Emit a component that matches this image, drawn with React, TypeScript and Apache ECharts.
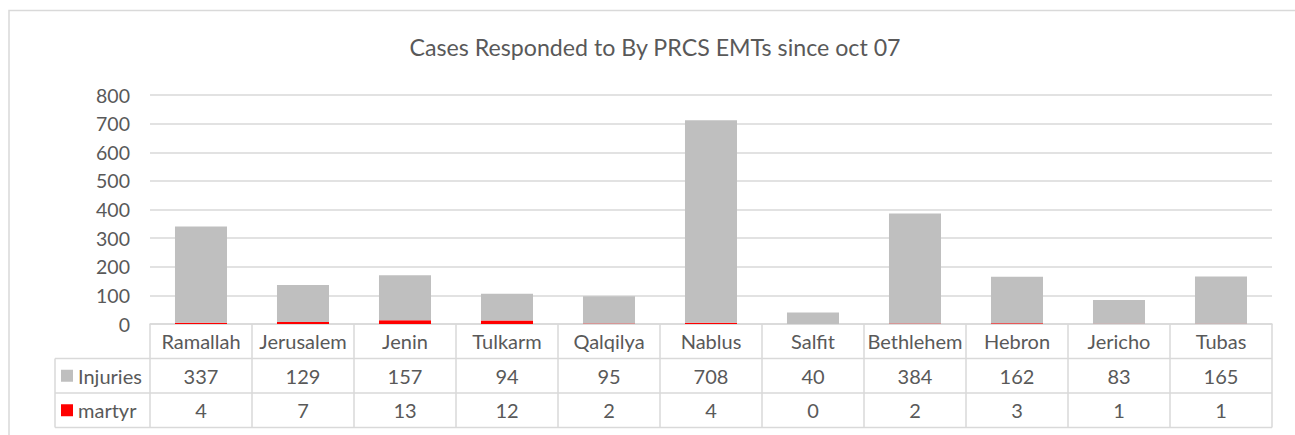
import React, { useEffect, useRef } from "react";
import * as echarts from "echarts";

const categories = ["Ramallah", "Jerusalem", "Jenin", "Tulkarm", "Qalqilya", "Nablus", "Salfit", "Bethlehem", "Hebron", "Jericho", "Tubas"];
const injuries = [337, 129, 157, 94, 95, 708, 40, 384, 162, 83, 165];
const martyr = [4, 7, 13, 12, 2, 4, 0, 2, 3, 1, 1];
const yTicks = [0, 100, 200, 300, 400, 500, 600, 700, 800];
const titleText = "Cases Responded to By PRCS EMTs since oct 07";

const W = 1295;
const H = 435;
const GL = 150;
const GR = 1272;
const GT = 95;
const GB = 324;
const TABLE_LEFT = 55;
const ROW_H = 34.5;
const FONT = "Lato, 'Open Sans', sans-serif";
const TXT = "#595959";
const LINE = "#d9d9d9";

export default function App() {
  const ref = useRef<HTMLDivElement>(null);
  useEffect(() => {
    document.body.style.margin = "0";
    const chart = echarts.init(ref.current!, null, { renderer: "svg" });
    const rowY = [GB + ROW_H, GB + 2 * ROW_H, GB + 3 * ROW_H];
    const hLines = rowY.map((y) => ({
      type: "line",
      shape: { x1: TABLE_LEFT, y1: y, x2: GR, y2: y },
      style: { stroke: LINE, lineWidth: 1.5 },
      silent: true,
    }));
    chart.setOption({
      animation: false,
      textStyle: { fontFamily: FONT },
      title: {
        text: titleText,
        left: 650,
        textAlign: "center",
        top: 30,
        textStyle: { fontFamily: FONT, fontSize: 23.2, fontWeight: "normal", color: TXT },
      },
      legend: {
        data: ["Injuries", "martyr"],
        orient: "vertical",
        left: 61,
        top: GB + ROW_H,
        padding: 0,
        itemWidth: 12,
        itemHeight: 12,
        itemGap: 0,
        icon: "rect",
        selectedMode: false,
        textStyle: { fontFamily: FONT, fontSize: 20, color: TXT, lineHeight: ROW_H, height: ROW_H },
      },
      grid: { left: GL, right: W - GR, top: GT, bottom: H - GB, containLabel: false },
      xAxis: {
        type: "category",
        data: categories,
        axisLine: { lineStyle: { color: LINE, width: 1.5 } },
        axisTick: { show: true, interval: 0, length: 3 * ROW_H, lineStyle: { color: LINE, width: 1.5 } },
        axisLabel: {
          interval: 0,
          margin: 0,
          formatter: (v: string) => {
            const idx = categories.indexOf(v);
            return `{c|${v}}\n{v|${injuries[idx]}}\n{v|${martyr[idx]}}`;
          },
          rich: {
            c: { fontFamily: FONT, fontSize: 20, color: TXT, lineHeight: ROW_H, height: ROW_H },
            v: { fontFamily: FONT, fontSize: 20, color: TXT, lineHeight: ROW_H, height: ROW_H },
          },
        },
      },
      yAxis: {
        type: "value",
        min: yTicks[0],
        max: yTicks[yTicks.length - 1],
        interval: 100,
        axisLine: { show: false },
        axisTick: { show: false },
        axisLabel: { margin: 20, fontFamily: FONT, fontSize: 19.5, color: TXT },
        splitLine: { lineStyle: { color: LINE, width: 1.5 } },
      },
      series: [
        {
          name: "martyr",
          type: "bar",
          stack: "total",
          data: martyr,
          barCategoryGap: "49%",
          itemStyle: { color: "#ff0000" },
        },
        {
          name: "Injuries",
          type: "bar",
          stack: "total",
          data: injuries,
          barCategoryGap: "49%",
          itemStyle: { color: "#bfbfbf" },
        },
      ],
      graphic: [
        {
          type: "rect",
          shape: { x: 9, y: 10.5, width: 1400, height: 600 },
          style: { fill: "none", stroke: LINE, lineWidth: 1.5 },
          silent: true,
        },
        ...hLines,
        {
          type: "line",
          shape: { x1: TABLE_LEFT, y1: rowY[0], x2: TABLE_LEFT, y2: rowY[2] },
          style: { stroke: LINE, lineWidth: 1.5 },
          silent: true,
        },
      ],
    });
    return () => chart.dispose();
  }, []);
  return <div ref={ref} style={{ width: W, height: H }} />;
}
